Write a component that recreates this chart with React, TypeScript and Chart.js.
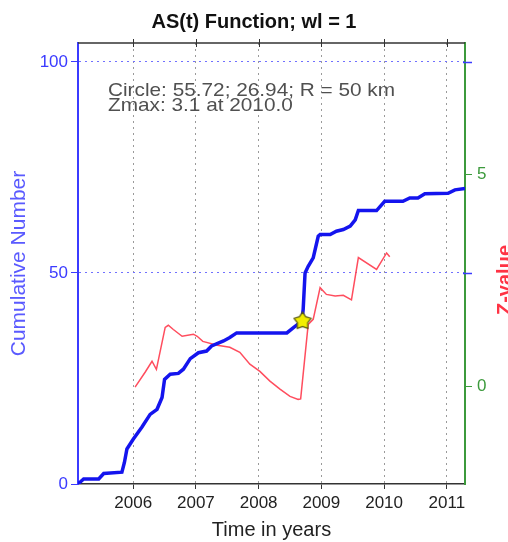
import React, { useEffect, useRef } from "react";
import { Chart, registerables } from "chart.js";

Chart.register(...registerables);

const FONT = "'Liberation Sans', Arial, Helvetica, sans-serif";

// Cumulative number (blue, left axis)
const blueYears = [
  2005.12, 2005.21, 2005.45, 2005.53, 2005.82, 2005.86, 2005.9, 2006.0, 2006.14, 2006.27,
  2006.38, 2006.46, 2006.5, 2006.59, 2006.72, 2006.8, 2006.91, 2007.04, 2007.17, 2007.25,
  2007.44, 2007.54, 2007.65, 2008.45, 2008.55, 2008.69, 2008.71, 2008.74, 2008.79, 2008.87,
  2008.95, 2008.98, 2009.14, 2009.24, 2009.35, 2009.46, 2009.54, 2009.59, 2009.88, 2010.01,
  2010.3, 2010.41, 2010.54, 2010.65, 2011.02, 2011.13, 2011.29,
];
const blueCounts = [
  0, 1.2, 1.2, 2.5, 2.8, 5.1, 8.3, 10.6, 13.5, 16.5,
  17.7, 20.5, 24.8, 26, 26.2, 27.2, 29.7, 31.1, 31.5, 32.7,
  33.9, 34.7, 35.8, 35.8, 37, 38.6, 41.4, 50, 51.6, 53.6,
  58.7, 59.1, 59.1, 59.9, 60.3, 61.1, 62.6, 64.8, 64.8, 67,
  67, 67.8, 67.8, 68.8, 68.9, 69.7, 70,
];

// Z-value (red, right axis)
const zYears = [
  2006.03, 2006.19, 2006.3, 2006.37, 2006.51, 2006.56, 2006.64, 2006.78, 2006.96, 2007.02,
  2007.11, 2007.34, 2007.54, 2007.7, 2007.86, 2008.02, 2008.18, 2008.34, 2008.5, 2008.63,
  2008.67, 2008.79, 2008.87, 2008.98, 2009.08, 2009.22, 2009.35, 2009.48, 2009.59, 2009.88,
  2010.04, 2010.09,
];
const zValues = [
  -0.02, 0.33, 0.59, 0.4, 1.39, 1.44, 1.34, 1.18, 1.23, 1.18,
  1.06, 0.97, 0.92, 0.8, 0.52, 0.35, 0.12, -0.07, -0.24, -0.31,
  -0.3, 1.46, 1.58, 2.33, 2.17, 2.13, 2.15, 2.04, 3.04, 2.76,
  3.15, 3.06,
];

// Star marker
const starYear = [2008.7];
const starCount = [38.6];

const xTicks = [2006, 2007, 2008, 2009, 2010, 2011];
const countTicks = [0, 50, 100];
const zTicks = [0, 5];

const titleText = "AS(t) Function; wl = 1";
const noteLines = ["Circle: 55.72; 26.94; R = 50 km", "Zmax: 3.1 at 2010.0"];
const xTitle = "Time in years";
const yLeftTitle = "Cumulative Number";
const yRightTitle = "Z-value";

const BLUE_AX = "#3b3bff";
const GREEN_AX = "#3c9a3c";

function makeStar(): HTMLCanvasElement {
  const c = document.createElement("canvas");
  c.width = 20;
  c.height = 20;
  const g = c.getContext("2d")!;
  const cx = 10, cy = 10, ro = 9, ri = 5.4;
  g.beginPath();
  for (let i = 0; i < 10; i++) {
    const r = i % 2 === 0 ? ro : ri;
    const a = -Math.PI / 2 + (i * Math.PI) / 5;
    const px = cx + r * Math.cos(a);
    const py = cy + r * Math.sin(a);
    if (i === 0) g.moveTo(px, py);
    else g.lineTo(px, py);
  }
  g.closePath();
  g.fillStyle = "#f2ee00";
  g.fill();
  g.lineWidth = 1.2;
  g.strokeStyle = "#5a5a10";
  g.stroke();
  return c;
}

const decorPlugin = {
  id: "decor",
  afterDraw(chart: any) {
    const { ctx, chartArea, scales } = chart;
    const { left, right, top } = chartArea;
    ctx.save();
    // top border
    ctx.strokeStyle = "#333";
    ctx.lineWidth = 1.5;
    ctx.beginPath();
    ctx.moveTo(left, top);
    ctx.lineTo(right, top);
    ctx.stroke();
    // top ticks
    ctx.lineWidth = 1;
    for (const v of xTicks) {
      const px = Math.round(scales.x.getPixelForValue(v)) + 0.5;
      ctx.beginPath();
      ctx.moveTo(px, top - 4);
      ctx.lineTo(px, top + 4);
      ctx.stroke();
    }
    // mirrored left-axis ticks on right side
    ctx.strokeStyle = BLUE_AX;
    ctx.lineWidth = 1.5;
    for (const v of countTicks) {
      if (v === 0) continue;
      const py = Math.round(scales.yL.getPixelForValue(v)) + 0.5;
      ctx.beginPath();
      ctx.moveTo(right - 2, py);
      ctx.lineTo(right + 7, py);
      ctx.stroke();
    }
    // annotation text
    ctx.fillStyle = "#505050";
    ctx.font = `19px ${FONT}`;
    ctx.textBaseline = "alphabetic";
    ctx.textAlign = "left";
    const w0 = ctx.measureText(noteLines[0]).width;
    const sx = 287 / w0;
    noteLines.forEach((line, i) => {
      ctx.save();
      ctx.translate(108, 96 + i * 15);
      ctx.scale(sx, 1);
      ctx.fillText(line, 0, 0);
      ctx.restore();
    });
    // right axis title
    ctx.save();
    ctx.translate(495, 280);
    ctx.rotate(-Math.PI / 2);
    ctx.textAlign = "center";
    ctx.textBaseline = "top";
    ctx.font = `bold 20px ${FONT}`;
    ctx.fillStyle = "#ff3344";
    ctx.fillText(yRightTitle, 0, 0);
    ctx.restore();
    ctx.restore();
  },
};

export default function App() {
  const ref = useRef<HTMLCanvasElement>(null);
  useEffect(() => {
    if (!ref.current) return;
    const star = makeStar();
    const chart = new Chart(ref.current, {
      type: "line",
      data: {
        datasets: [
          {
            label: "star",
            data: starYear.map((x, i) => ({ x, y: starCount[i] })),
            yAxisID: "yL",
            showLine: false,
            pointStyle: star as any,
            pointRadius: 10,
          },
          {
            label: "Cumulative",
            data: blueYears.map((x, i) => ({ x, y: blueCounts[i] })),
            yAxisID: "yL",
            borderColor: "#1414ee",
            borderWidth: 3.5,
            pointRadius: 0,
            tension: 0,
            fill: false,
          },
          {
            label: "Z",
            data: zYears.map((x, i) => ({ x, y: zValues[i] })),
            yAxisID: "yR",
            borderColor: "#ff4d5e",
            borderWidth: 1.5,
            pointRadius: 0,
            tension: 0,
            fill: false,
          },
        ],
      },
      options: {
        animation: false,
        responsive: false,
        devicePixelRatio: 1,
        layout: { padding: 0 },
        plugins: {
          legend: { display: false },
          tooltip: { enabled: false },
          title: {
            display: true,
            text: titleText,
            color: "#111",
            font: { family: FONT, size: 20, weight: "bold" },
            padding: { top: 10, bottom: 9 },
          },
        },
        scales: {
          x: {
            type: "linear",
            position: "bottom",
            min: 2005.12,
            max: 2011.29,
            afterBuildTicks: (s: any) => {
              s.ticks = xTicks.map((v) => ({ value: v }));
            },
            afterFit: (s: any) => {
              s.height = 58;
            },
            ticks: {
              autoSkip: false,
              maxRotation: 0,
              color: "#222",
              padding: 4,
              font: { family: FONT, size: 17 },
              callback: (v: any) => String(v),
            },
            grid: {
              color: "#9a9a9a",
              lineWidth: 1,
              tickLength: 5,
              tickColor: "#333",
            },
            border: { color: "#333", width: 1.5, dash: [2, 4] },
            title: {
              display: true,
              text: xTitle,
              color: "#222",
              font: { family: FONT, size: 20 },
              padding: { top: 0, bottom: 0 },
            },
          },
          yL: {
            type: "linear",
            position: "left",
            min: 0,
            max: 104.5,
            afterBuildTicks: (s: any) => {
              s.ticks = countTicks.map((v) => ({ value: v }));
            },
            afterFit: (s: any) => {
              s.width = 78;
            },
            ticks: {
              color: BLUE_AX,
              padding: 3,
              font: { family: FONT, size: 17 },
            },
            grid: {
              color: (c: any) => (c.tick && c.tick.value === 0 ? "rgba(0,0,0,0)" : "#7070ff"),
              lineWidth: 1,
              tickLength: 7,
              tickColor: BLUE_AX,
            },
            border: { color: BLUE_AX, width: 2, dash: [2, 4] },
            title: {
              display: true,
              text: yLeftTitle,
              color: "#5a5aff",
              font: { family: FONT, size: 21 },
              padding: { top: 7, bottom: 0 },
            },
          },
          yR: {
            type: "linear",
            position: "right",
            min: -2.31,
            max: 8.11,
            afterBuildTicks: (s: any) => {
              s.ticks = zTicks.map((v) => ({ value: v }));
            },
            afterFit: (s: any) => {
              s.width = 43;
            },
            ticks: {
              color: GREEN_AX,
              padding: 5,
              font: { family: FONT, size: 17 },
            },
            grid: {
              drawOnChartArea: false,
              tickLength: 7,
              tickColor: GREEN_AX,
            },
            border: { color: GREEN_AX, width: 2 },
          },
        },
      },
      plugins: [decorPlugin],
    });
    return () => chart.destroy();
  }, []);

  return (
    <div style={{ position: "absolute", left: 0, top: 0, width: 508, height: 542, background: "#fff" }}>
      <canvas ref={ref} width={508} height={542} style={{ width: 508, height: 542, display: "block" }} />
    </div>
  );
}
